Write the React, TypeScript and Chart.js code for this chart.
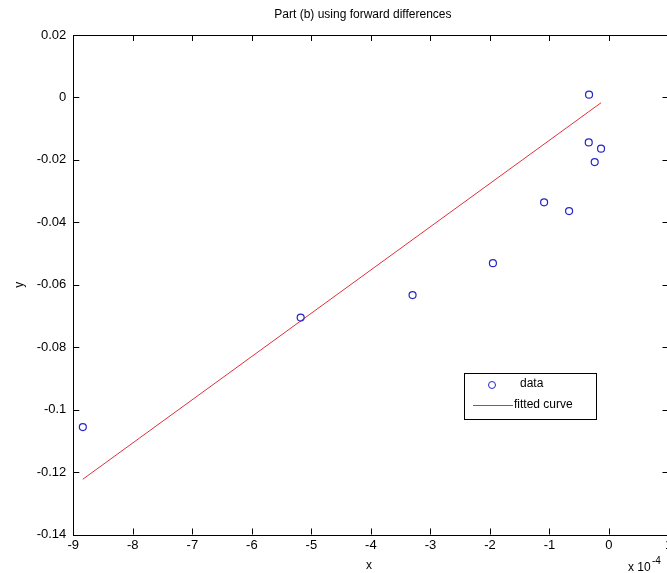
import React, { useEffect, useRef } from "react";
import { Chart, registerables } from "chart.js";

Chart.register(...registerables);

const titleText = "Part (b) using forward differences";
const xLabel = "x";
const yLabel = "y";
const legendLabels = ["data", "fitted curve"];

const dataX = [-8.84, -5.18, -3.3, -1.95, -1.09, -0.67, -0.335, -0.34, -0.133, -0.24];
const dataY = [-0.1056, -0.0705, -0.0633, -0.0531, -0.0336, -0.0364, 0.0009, -0.0144, -0.0164, -0.0207];
const fitX = [-8.84, -0.133];
const fitY = [-0.1223, -0.0017];

const xTicks = [-9, -8, -7, -6, -5, -4, -3, -2, -1, 0, 1];
const yTicks = [0.02, 0, -0.02, -0.04, -0.06, -0.08, -0.1, -0.12, -0.14];

const BLUE = "#2626c8";
const RED = "#e0303c";
const FONT = "'Liberation Sans', Arial, sans-serif";

const decorPlugin = {
  id: "decor",
  afterDraw(chart: any) {
    const { ctx, chartArea } = chart;
    const { left, right, top, bottom } = chartArea;
    const xs = chart.scales.x;
    const ys = chart.scales.y;
    ctx.save();
    ctx.strokeStyle = "#000";
    ctx.lineWidth = 1;
    // frame
    ctx.strokeRect(Math.round(left) + 0.5, Math.round(top) + 0.5, Math.round(right - left), Math.round(bottom - top));
    // inward ticks
    const TL = 6;
    ctx.beginPath();
    xTicks.forEach((v) => {
      const px = Math.round(xs.getPixelForValue(v)) + 0.5;
      ctx.moveTo(px, bottom);
      ctx.lineTo(px, bottom - TL);
      ctx.moveTo(px, top);
      ctx.lineTo(px, top + TL);
    });
    yTicks.forEach((v) => {
      const py = Math.round(ys.getPixelForValue(v)) + 0.5;
      ctx.moveTo(left, py);
      ctx.lineTo(left + TL, py);
      ctx.moveTo(right, py);
      ctx.lineTo(right - TL, py);
    });
    ctx.stroke();

    ctx.fillStyle = "#000";
    // title
    ctx.font = `12px ${FONT}`;
    ctx.textAlign = "center";
    ctx.textBaseline = "middle";
    ctx.fillText(titleText, (left + right) / 2 - 8, 15);
    // x label
    ctx.font = `12px ${FONT}`;
    ctx.fillText(xLabel, (left + right) / 2 - 2, 566);
    // x10^-4
    ctx.textAlign = "left";
    ctx.fillText("x 10", 628, 568);
    ctx.font = `10px ${FONT}`;
    ctx.fillText("-4", 652, 561);
    // y label
    ctx.font = `12px ${FONT}`;
    ctx.save();
    ctx.translate(20, (top + bottom) / 2);
    ctx.rotate(-Math.PI / 2);
    ctx.textAlign = "center";
    ctx.fillText(yLabel, 0, 0);
    ctx.restore();

    // legend
    const lx = 464.5, ly = 373.5, lw = 132, lh = 46;
    ctx.fillStyle = "#fff";
    ctx.fillRect(lx, ly, lw, lh);
    ctx.strokeStyle = "#000";
    ctx.strokeRect(lx, ly, lw, lh);
    ctx.strokeStyle = BLUE;
    ctx.beginPath();
    ctx.arc(492, 385, 3.5, 0, Math.PI * 2);
    ctx.stroke();
    ctx.strokeStyle = RED;
    ctx.beginPath();
    ctx.moveTo(473, 405.5);
    ctx.lineTo(513, 405.5);
    ctx.stroke();
    ctx.fillStyle = "#000";
    ctx.font = `12px ${FONT}`;
    ctx.textAlign = "left";
    ctx.textBaseline = "middle";
    ctx.fillText(legendLabels[0], 520, 384);
    ctx.fillText(legendLabels[1], 514, 405);
    ctx.restore();
  },
};

export default function App() {
  const ref = useRef<HTMLCanvasElement>(null);
  useEffect(() => {
    const canvas = ref.current;
    if (!canvas) return;
    const chart = new Chart(canvas, {
      type: "scatter",
      data: {
        datasets: [
          {
            label: legendLabels[0],
            data: dataX.map((x, i) => ({ x, y: dataY[i] })),
            pointStyle: "circle",
            pointRadius: 3.5,
            pointBorderWidth: 1.2,
            borderColor: BLUE,
            backgroundColor: "rgba(0,0,0,0)",
            showLine: false,
          },
          {
            label: legendLabels[1],
            data: fitX.map((x, i) => ({ x, y: fitY[i] })),
            showLine: true,
            pointRadius: 0,
            borderColor: RED,
            borderWidth: 1,
            backgroundColor: RED,
          },
        ],
      },
      options: {
        responsive: false,
        animation: false,
        devicePixelRatio: 1,
        layout: { padding: { left: 0, top: 35, right: 21.5, bottom: 0 } },
        plugins: {
          legend: { display: false },
          title: { display: false },
          tooltip: { enabled: false },
        },
        scales: {
          x: {
            type: "linear",
            min: -9,
            max: 1,
            grid: { display: false, drawTicks: false },
            border: { display: false },
            afterBuildTicks: (s: any) => {
              s.ticks = xTicks.map((v) => ({ value: v }));
            },
            afterFit: (s: any) => {
              s.height = 38.5;
            },
            ticks: {
              padding: 3,
              color: "#000",
              font: { family: FONT, size: 13 },
              maxRotation: 0,
              autoSkip: false,
              callback: (v: any) => String(v),
            },
          },
          y: {
            type: "linear",
            min: -0.14,
            max: 0.02,
            grid: { display: false, drawTicks: false },
            border: { display: false },
            afterBuildTicks: (s: any) => {
              s.ticks = yTicks.map((v) => ({ value: v }));
            },
            afterFit: (s: any) => {
              s.width = 73.3;
            },
            ticks: {
              padding: 7,
              color: "#000",
              font: { family: FONT, size: 13 },
              autoSkip: false,
              callback: (v: any) => String(Number(Number(v).toFixed(2))),
            },
          },
        },
      },
      plugins: [decorPlugin],
    });
    return () => chart.destroy();
  }, []);
  return (
    <div style={{ position: "fixed", left: 0, top: 0, width: 667, height: 573, overflow: "hidden", background: "#fff" }}>
      <canvas ref={ref} width={690} height={573} style={{ display: "block", width: 690, height: 573 }} />
    </div>
  );
}
